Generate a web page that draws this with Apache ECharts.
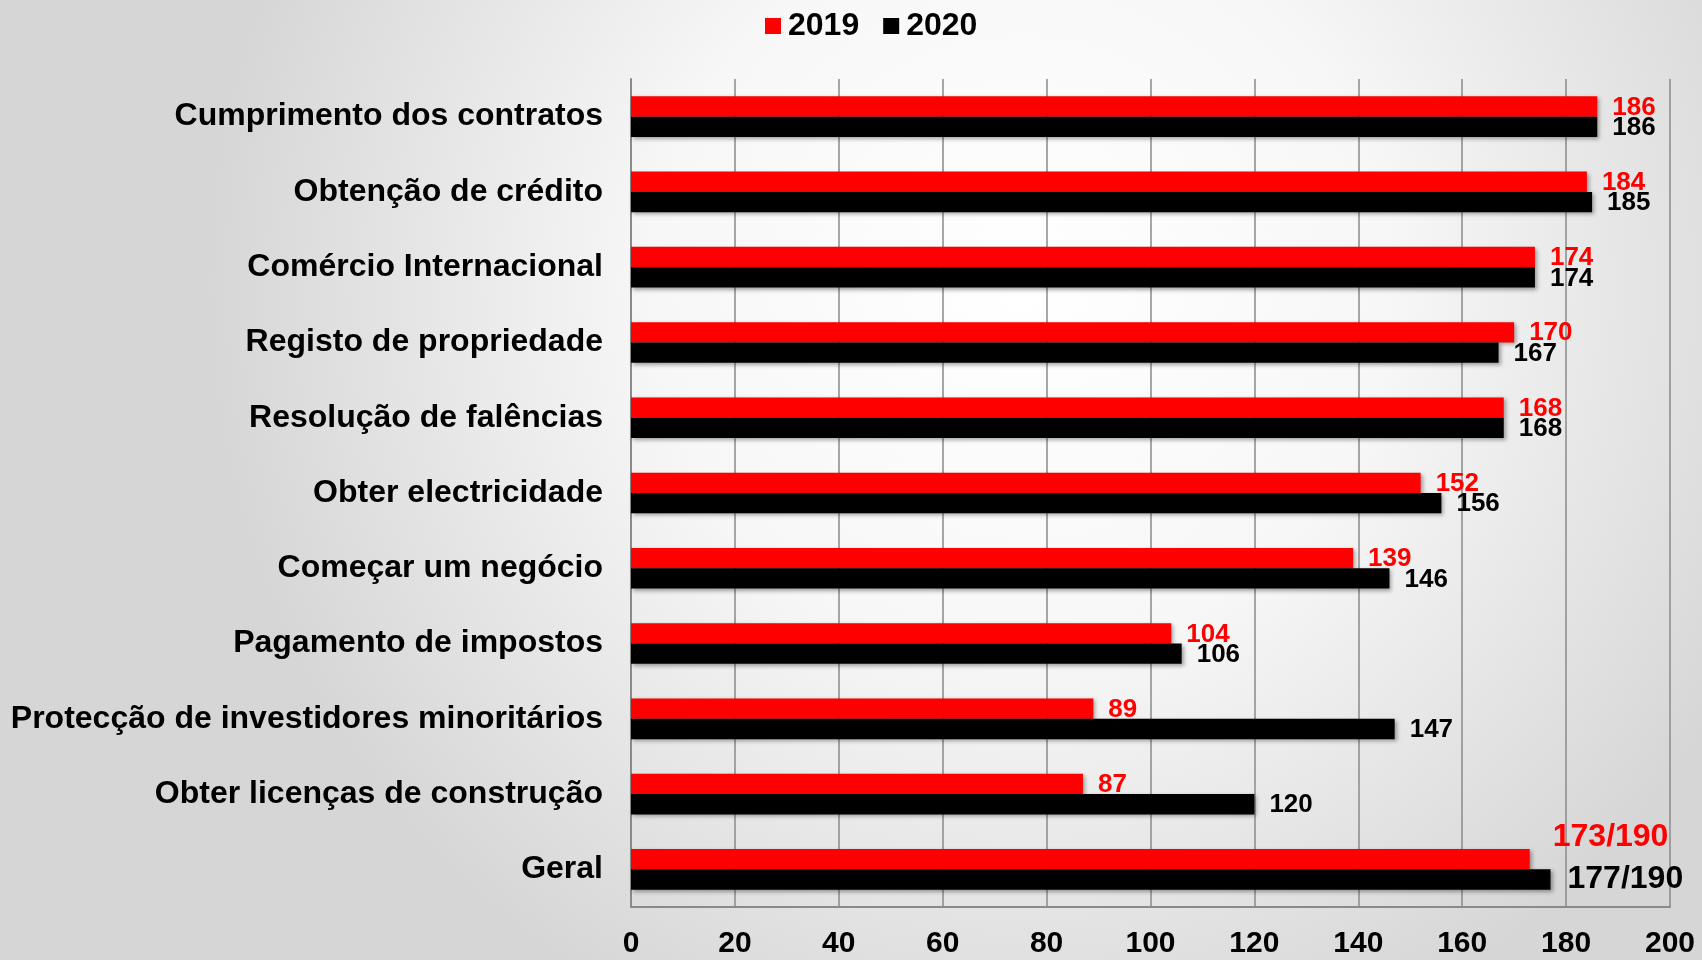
<!DOCTYPE html>
<html>
<head>
<meta charset="utf-8">
<script src="https://cdn.jsdelivr.net/npm/echarts@6/dist/echarts.min.js"></script>
<style>
  html, body { margin: 0; padding: 0; }
  #chart { width: 1702px; height: 960px; }
</style>
</head>
<body>
<div id="chart"></div>
<script>
const categories = [
  'Cumprimento dos contratos',
  'Obtenção de crédito',
  'Comércio Internacional',
  'Registo de propriedade',
  'Resolução de falências',
  'Obter electricidade',
  'Começar um negócio',
  'Pagamento de impostos',
  'Protecção de investidores minoritários',
  'Obter licenças de construção',
  'Geral'
];
const values2019 = [186, 184, 174, 170, 168, 152, 139, 104, 89, 87, 173];
const values2020 = [186, 185, 174, 167, 168, 156, 146, 106, 147, 120, 177];
const totalEconomies = 190;
const xTicks = [0, 20, 40, 60, 80, 100, 120, 140, 160, 180, 200];

const font = "'Liberation Sans', Arial, sans-serif";
const chart = echarts.init(document.getElementById('chart'));

// the "Geral" row shows rank out of the total, in a bigger label
function buildData(vals, geralOffset) {
  return vals.map((v, i) => {
    if (categories[i] !== 'Geral') return v;
    return {
      value: v,
      label: {
        fontSize: 32,
        offset: geralOffset,
        formatter: () => v + '/' + totalEconomies
      }
    };
  });
}

const barShadow = {
  shadowColor: 'rgba(0,0,0,0.35)',
  shadowBlur: 4,
  shadowOffsetX: 2,
  shadowOffsetY: 2
};

chart.setOption({
  backgroundColor: {
    type: 'radial', x: 0.6, y: 0.3, r: 0.85,
    colorStops: [
      { offset: 0, color: '#ffffff' },
      { offset: 0.45, color: '#f7f7f7' },
      { offset: 1, color: '#d6d6d6' }
    ]
  },
  textStyle: { fontFamily: font },
  legend: {
    top: 5,
    left: 760,
    itemWidth: 16,
    itemHeight: 16,
    itemGap: 24,
    icon: 'rect',
    textStyle: { fontSize: 32, fontWeight: 'bold', color: '#000', fontFamily: font, padding: [0, 0, 0, 2] },
    data: ['2019', '2020']
  },
  grid: { left: 631, right: 32, top: 79, bottom: 53 },
  xAxis: {
    type: 'value',
    min: xTicks[0],
    max: xTicks[xTicks.length - 1],
    interval: 20,
    axisLine: { show: true, lineStyle: { color: '#8a8a8a', width: 2 } },
    axisTick: { show: false },
    splitLine: { show: true, lineStyle: { color: '#8a8a8a', width: 1.5 } },
    axisLabel: {
      margin: 22,
      fontSize: 30,
      fontWeight: 'bold',
      color: '#000',
      fontFamily: font
    }
  },
  yAxis: {
    type: 'category',
    inverse: true,
    data: categories,
    axisLine: { show: true, lineStyle: { color: '#8a8a8a', width: 2 } },
    axisTick: { show: false },
    axisLabel: {
      margin: 28,
      fontSize: 32,
      fontWeight: 'bold',
      color: '#000',
      fontFamily: font
    }
  },
  series: [{
    name: '2019',
    type: 'bar',
    barGap: '0%',
    barCategoryGap: '46%',
    itemStyle: Object.assign({ color: '#ff0000' }, barShadow),
    label: {
      show: true,
      position: 'right',
      distance: 15,
      offset: [0, 1],
      color: '#ff0000',
      fontSize: 26,
      fontWeight: 'bold',
      fontFamily: font
    },
    data: buildData(values2019, [8, -22])
  }, {
    name: '2020',
    type: 'bar',
    itemStyle: Object.assign({ color: '#000000' }, barShadow),
    label: {
      show: true,
      position: 'right',
      distance: 15,
      offset: [0, 1],
      color: '#000',
      fontSize: 26,
      fontWeight: 'bold',
      fontFamily: font
    },
    data: buildData(values2020, [2, 0])
  }]
});
</script>
</body>
</html>
